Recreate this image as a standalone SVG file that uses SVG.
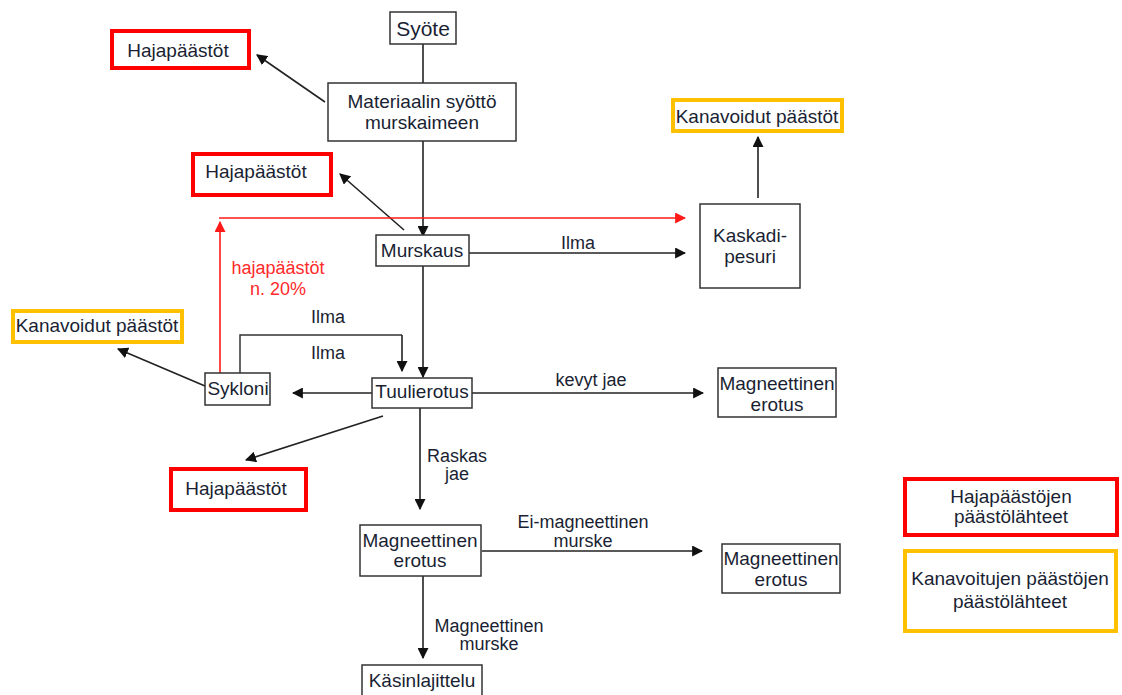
<svg xmlns="http://www.w3.org/2000/svg" width="1122" height="695" viewBox="0 0 1122 695">
<defs>
<marker id="ah" viewBox="0 0 10 10" refX="9" refY="5" markerWidth="11" markerHeight="11" markerUnits="userSpaceOnUse" orient="auto"><path d="M0,0 L10,5 L0,10 z" fill="#111"/></marker>
<marker id="ahr" viewBox="0 0 10 10" refX="9" refY="5" markerWidth="11" markerHeight="11" markerUnits="userSpaceOnUse" orient="auto"><path d="M0,0 L10,5 L0,10 z" fill="#ff1a1a"/></marker>
</defs>
<style>
text{font-family:"Liberation Sans",Arial,sans-serif;font-size:19px;fill:#1a1f33;text-anchor:middle}
.lb{font-size:18px}
.box{fill:#fff;stroke:#333;stroke-width:1.5}
.red{fill:#fff;stroke:#ff0000;stroke-width:4}
.org{fill:#fff;stroke:#ffc000;stroke-width:4}
.ln{fill:none;stroke:#333;stroke-width:1.5}
.arr{fill:none;stroke:#222;stroke-width:1.6;marker-end:url(#ah)}
.rarr{fill:none;stroke:#ff1a1a;stroke-width:1.6;marker-end:url(#ahr)}
.rt{fill:#ff2a2a}
</style>
<rect width="1122" height="695" fill="#fff"/>
<g id="connectors">
<line class="arr" x1="423" y1="30" x2="423" y2="236"/>
<line class="arr" x1="325" y1="102" x2="257" y2="55"/>
<line class="arr" x1="404" y1="230" x2="340" y2="174"/>
<line class="rarr" x1="219" y1="218" x2="685" y2="218"/>
<line class="rarr" x1="220" y1="373" x2="220" y2="222"/>
<line class="arr" x1="469" y1="253" x2="685" y2="253"/>
<line class="arr" x1="758" y1="198" x2="758" y2="137"/>
<line class="arr" x1="423" y1="266" x2="423" y2="377"/>
<polyline class="ln" points="240,373 240,335 402,335"/>
<line class="arr" x1="402" y1="335" x2="402" y2="371"/>
<line class="arr" x1="372" y1="393" x2="293" y2="393"/>
<line class="arr" x1="472" y1="393" x2="703" y2="393"/>
<line class="arr" x1="205" y1="386" x2="118" y2="349"/>
<line class="arr" x1="383" y1="416" x2="246" y2="460"/>
<line class="arr" x1="420" y1="408" x2="420" y2="509"/>
<line class="arr" x1="482" y1="551" x2="702" y2="551"/>
<line class="arr" x1="423" y1="576" x2="423" y2="658"/>
<text class="lb" x="578" y="249">Ilma</text>
<text class="lb" x="328" y="323">Ilma</text>
<text class="lb" x="328" y="359">Ilma</text>
<text class="lb" x="591" y="386">kevyt jae</text>
<text class="lb" x="457" y="462">Raskas</text>
<text class="lb" x="457" y="480">jae</text>
<text class="lb" x="583" y="528">Ei-magneettinen</text>
<text class="lb" x="583" y="547">murske</text>
<text class="lb" x="489" y="632">Magneettinen</text>
<text class="lb" x="489" y="650">murske</text>
<text class="lb rt" x="278" y="274">hajapäästöt</text>
<text class="lb rt" x="278" y="295">n. 20%</text>
</g>
<g id="syote"><rect class="box" x="390" y="12" width="66" height="32"/><text x="423" y="36" style="font-size:21px">Syöte</text></g>
<g id="materiaalin"><rect class="box" x="328" y="83" width="188" height="58"/><text x="422" y="108">Materiaalin syöttö</text><text x="422" y="129">murskaimeen</text></g>
<g id="haja1"><rect class="red" x="112" y="31" width="137" height="37"/><text x="178" y="57">Hajapäästöt</text></g>
<g id="haja2"><rect class="red" x="193" y="154" width="138" height="41"/><text x="256" y="178">Hajapäästöt</text></g>
<g id="haja3"><rect class="red" x="171" y="469" width="135" height="41"/><text x="236" y="495">Hajapäästöt</text></g>
<g id="murskaus"><rect class="box" x="376" y="235" width="93" height="31"/><text x="422" y="257">Murskaus</text></g>
<g id="kaskadi"><rect class="box" x="700" y="204" width="100" height="84"/><text x="750" y="242">Kaskadi-</text><text x="750" y="263">pesuri</text></g>
<g id="kanavoidut1"><rect class="org" x="673" y="100" width="169" height="31"/><text x="757" y="123">Kanavoidut päästöt</text></g>
<g id="kanavoidut2"><rect class="org" x="13" y="311" width="169" height="31"/><text x="97" y="332">Kanavoidut päästöt</text></g>
<g id="sykloni"><rect class="box" x="205" y="373" width="65" height="32"/><text x="238" y="395">Sykloni</text></g>
<g id="tuulierotus"><rect class="box" x="372" y="378" width="100" height="30"/><text x="422" y="398">Tuulierotus</text></g>
<g id="magn1"><rect class="box" x="718" y="368" width="118" height="49"/><text x="777" y="390">Magneettinen</text><text x="777" y="411">erotus</text></g>
<g id="magn2"><rect class="box" x="360" y="525" width="121" height="51"/><text x="420" y="547">Magneettinen</text><text x="420" y="567">erotus</text></g>
<g id="magn3"><rect class="box" x="722" y="544" width="118" height="49"/><text x="781" y="565">Magneettinen</text><text x="781" y="586">erotus</text></g>
<g id="kasinlajittelu"><rect class="box" x="362" y="665" width="120" height="32"/><text x="422" y="687">Käsinlajittelu</text></g>
<g id="legend-haja"><rect class="red" x="905" y="479" width="212" height="56"/><text x="1011" y="503">Hajapäästöjen</text><text x="1011" y="523">päästölähteet</text></g>
<g id="legend-kanav"><rect class="org" x="905" y="551" width="211" height="80"/><text x="1010" y="585">Kanavoitujen päästöjen</text><text x="1010" y="608">päästölähteet</text></g>
</svg>
